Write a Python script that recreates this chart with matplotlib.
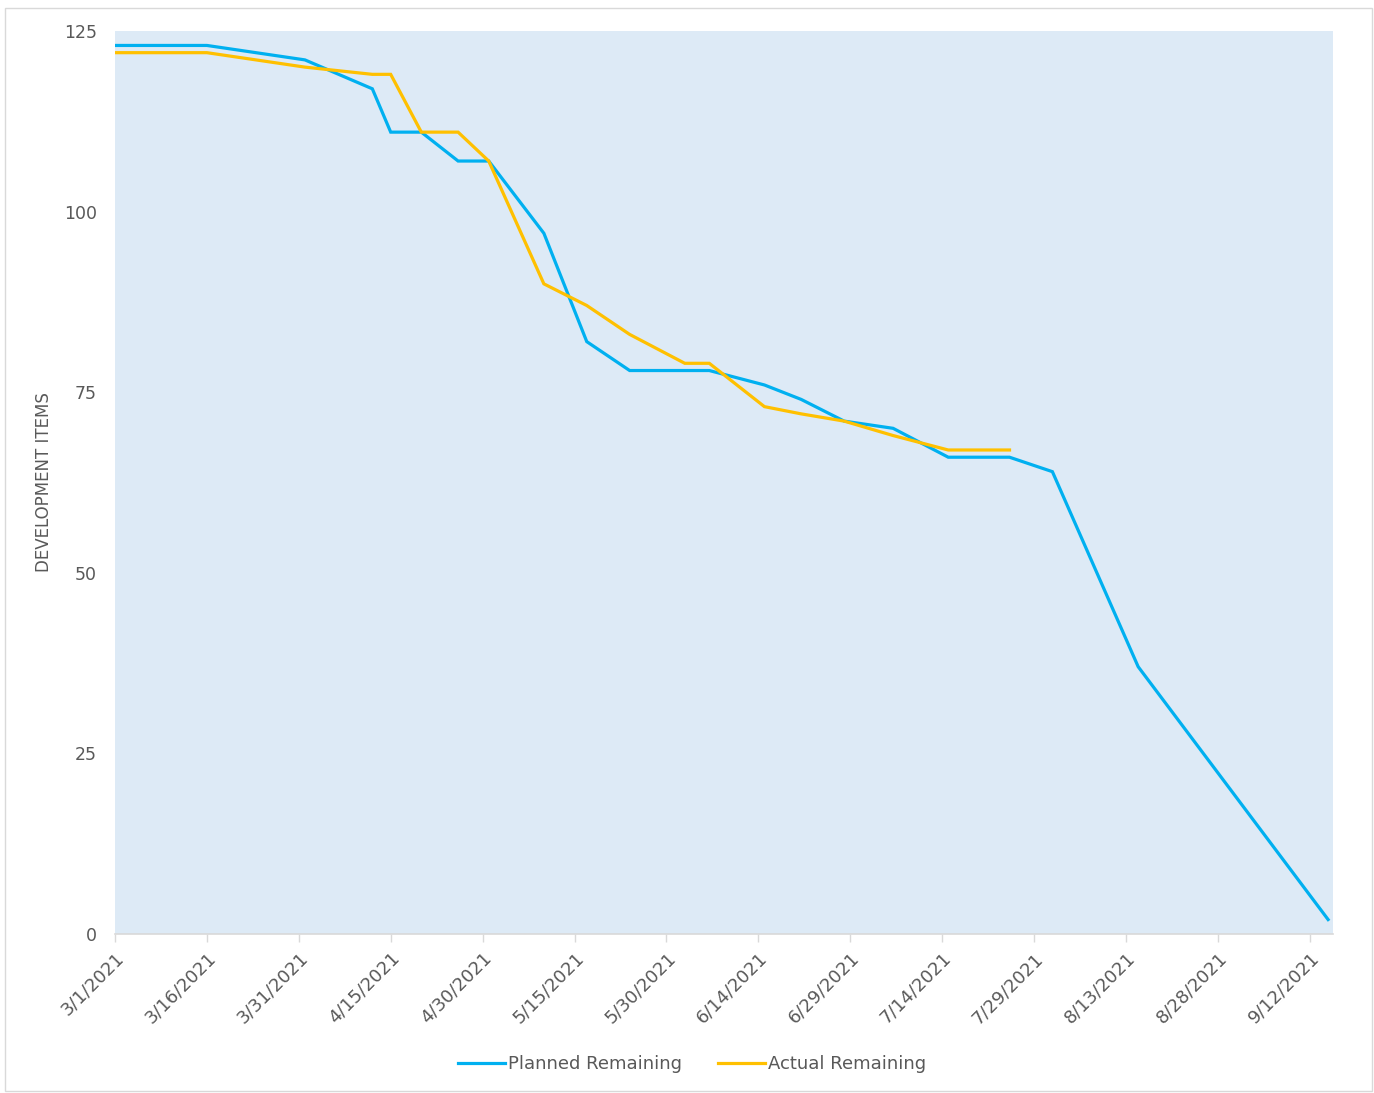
import matplotlib
matplotlib.use("Agg")
import matplotlib.pyplot as plt
import matplotlib.dates as mdates
from matplotlib.patches import Rectangle
import datetime as dt

plt.rcParams['font.family'] = ['DejaVu Sans']

dates = ["2021-03-01", "2021-03-16", "2021-04-01", "2021-04-12", "2021-04-15",
         "2021-04-20", "2021-04-26", "2021-05-01", "2021-05-10", "2021-05-17",
         "2021-05-24", "2021-06-02", "2021-06-06", "2021-06-15", "2021-06-21",
         "2021-06-28", "2021-07-06", "2021-07-15", "2021-07-25", "2021-08-01",
         "2021-08-15", "2021-09-15"]
planned = [123, 123, 121, 117, 111, 111, 107, 107, 97, 82, 78, 78, 78, 76, 74,
           71, 70, 66, 66, 64, 37, 2]
actual = [122, 122, 120, 119, 119, 111, 111, 107, 90, 87, 83, 79, 79, 73, 72,
          71, 69, 67, 67]
tick_dates = ["2021-03-01", "2021-03-16", "2021-03-31", "2021-04-15", "2021-04-30",
              "2021-05-15", "2021-05-30", "2021-06-14", "2021-06-29", "2021-07-14",
              "2021-07-29", "2021-08-13", "2021-08-28", "2021-09-12"]
y_ticks = [0, 25, 50, 75, 100, 125]

to_d = lambda s: dt.datetime.strptime(s, "%Y-%m-%d")
xd = [to_d(s) for s in dates]
xt = [to_d(s) for s in tick_dates]

W, H = 1374, 1093
fig = plt.figure(figsize=(W / 100, H / 100), dpi=100)
fig.patch.set_facecolor("white")
fig.add_artist(Rectangle((5 / W, 1 - 1091 / H), 1367 / W, 1083 / H,
                         transform=fig.transFigure, fill=False,
                         edgecolor="#D9D9D9", linewidth=1))

ax = fig.add_axes([115 / W, 1 - 934 / H, (1333 - 115) / W, (934 - 31) / H])
ax.set_facecolor("#DDEAF6")

text_color = "#595959"
ax.plot(xd, planned, color="#00B0F0", linewidth=2.3, label="Planned Remaining",
        solid_joinstyle="miter")
ax.plot(xd[:len(actual)], actual, color="#FFC000", linewidth=2.3,
        label="Actual Remaining", solid_joinstyle="miter")

x0 = mdates.date2num(to_d("2021-03-01"))
ax.set_xlim(x0, x0 + 198.8)
ax.set_ylim(0, 125)
ax.set_yticks(y_ticks)
ax.set_xticks(xt)
ax.set_xticklabels([f"{d.month}/{d.day}/{d.year}" for d in xt])

for s in ["top", "right", "left"]:
    ax.spines[s].set_visible(False)
ax.spines["bottom"].set_color("#D9D9D9")
ax.spines["bottom"].set_linewidth(1.2)

ax.tick_params(axis="y", length=0, pad=13, labelsize=12.5, labelcolor=text_color)
ax.tick_params(axis="x", length=6, color="#D9D9D9", width=1, pad=5,
               labelsize=13, labelcolor=text_color)
for lab in ax.get_xticklabels():
    lab.set_rotation(45)
    lab.set_ha("right")
    lab.set_va("top")
    lab.set_rotation_mode("anchor")

ax.set_ylabel("DEVELOPMENT ITEMS", fontsize=12, color=text_color, labelpad=8)

leg = fig.legend(loc="center", bbox_to_anchor=(692 / W, 1 - 1064 / H), ncol=2,
                 frameon=False, fontsize=13, handlelength=2.6,
                 handletextpad=0.15, columnspacing=2.0)
for t in leg.get_texts():
    t.set_color(text_color)

fig.savefig("out.png", dpi=100)
